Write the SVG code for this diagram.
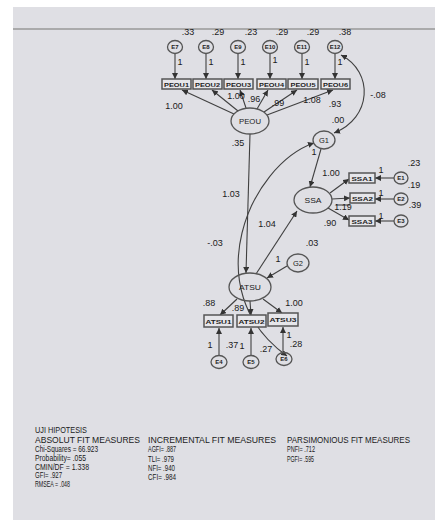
<svg xmlns="http://www.w3.org/2000/svg" width="435" height="523" viewBox="0 0 435 523">
<defs>
<marker id="ah" markerWidth="6" markerHeight="6" refX="6" refY="3" orient="auto-start-reverse" markerUnits="userSpaceOnUse">
<path d="M0,0 L6,3 L0,6 z" fill="#333"/>
</marker>
<style>
.n{fill:none;stroke:#555;stroke-width:1.3}
.bx{fill:#e6e6ea;stroke:#555;stroke-width:1.5}
.c{stroke:#404040;stroke-width:1.1;fill:none}
.l{font-family:"Liberation Sans",Arial,sans-serif;font-size:9px;fill:#1a1a1a;text-anchor:middle}
.t{font-family:"Liberation Sans",Arial,sans-serif;font-size:6px;font-weight:bold;fill:#222;text-anchor:middle}
.e{font-family:"Liberation Sans",Arial,sans-serif;font-size:7.5px;fill:#222;text-anchor:middle}
.f{font-family:"Liberation Sans",Arial,sans-serif;font-size:8.5px;fill:#1a1a1a}
</style>
</defs>
<rect x="0" y="0" width="435" height="523" fill="#ffffff"/>
<rect x="13" y="7" width="422" height="513" fill="#dfdfe4"/>
<line x1="13" y1="29" x2="435" y2="29" stroke="#999" stroke-width="1.5"/>

<g id="connectors">
<line class="c" x1="175" y1="54" x2="175" y2="79" marker-end="url(#ah)"/>
<line class="c" x1="206" y1="54" x2="206" y2="79" marker-end="url(#ah)"/>
<line class="c" x1="238" y1="54" x2="238" y2="79" marker-end="url(#ah)"/>
<line class="c" x1="270" y1="54" x2="270" y2="79" marker-end="url(#ah)"/>
<line class="c" x1="302" y1="54" x2="302" y2="79" marker-end="url(#ah)"/>
<line class="c" x1="335" y1="54" x2="335" y2="79" marker-end="url(#ah)"/>
<line class="c" x1="234" y1="114" x2="182" y2="90" marker-end="url(#ah)"/>
<line class="c" x1="238" y1="111" x2="212" y2="90" marker-end="url(#ah)"/>
<line class="c" x1="246" y1="108" x2="240" y2="90" marker-end="url(#ah)"/>
<line class="c" x1="257" y1="109" x2="268" y2="90" marker-end="url(#ah)"/>
<line class="c" x1="264" y1="112" x2="297" y2="90" marker-end="url(#ah)"/>
<line class="c" x1="267" y1="115" x2="333" y2="90" marker-end="url(#ah)"/>
<path class="c" d="M341,55 C374,72 372,118 334,133" marker-start="url(#ah)" marker-end="url(#ah)"/>
<line class="c" x1="321" y1="149" x2="310" y2="187" marker-end="url(#ah)"/>
<line class="c" x1="330" y1="193" x2="349" y2="179" marker-end="url(#ah)"/>
<line class="c" x1="332" y1="199" x2="350" y2="198" marker-end="url(#ah)"/>
<line class="c" x1="328" y1="208" x2="349" y2="220" marker-end="url(#ah)"/>
<line class="c" x1="394" y1="178" x2="375" y2="178" marker-end="url(#ah)"/>
<line class="c" x1="394" y1="199" x2="375" y2="199" marker-end="url(#ah)"/>
<line class="c" x1="394" y1="221" x2="375" y2="221" marker-end="url(#ah)"/>
<line class="c" x1="336" y1="205" x2="350" y2="205"/>
<line class="c" x1="250" y1="134" x2="246" y2="273" marker-end="url(#ah)"/>
<line class="c" x1="256" y1="274" x2="297" y2="211" marker-end="url(#ah)"/>
<line class="c" x1="287" y1="266" x2="267" y2="278" marker-end="url(#ah)"/>
<path class="c" d="M314,143 C250,165 195,290 287,356" marker-start="url(#ah)" marker-end="url(#ah)"/>
<line class="c" x1="237" y1="299" x2="220" y2="315" marker-end="url(#ah)"/>
<line class="c" x1="250" y1="301" x2="251" y2="315" marker-end="url(#ah)"/>
<line class="c" x1="263" y1="299" x2="282" y2="313" marker-end="url(#ah)"/>
<line class="c" x1="219" y1="355" x2="219" y2="328" marker-end="url(#ah)"/>
<line class="c" x1="251" y1="355" x2="251" y2="328" marker-end="url(#ah)"/>
<line class="c" x1="283" y1="353" x2="283" y2="327" marker-end="url(#ah)"/>
</g>

<g id="labels">
<text class="l" x="188" y="35">.33</text>
<text class="l" x="218" y="35">.29</text>
<text class="l" x="251" y="35">.23</text>
<text class="l" x="282" y="35">.29</text>
<text class="l" x="313" y="35">.29</text>
<text class="l" x="345" y="35">.38</text>
<text class="l" x="180" y="65">1</text>
<text class="l" x="211" y="65">1</text>
<text class="l" x="243" y="65">1</text>
<text class="l" x="275" y="63">1</text>
<text class="l" x="307" y="65">1</text>
<text class="l" x="340" y="65">1</text>
<text class="l" x="174" y="109">1.00</text>
<text class="l" x="236" y="99">1.00</text>
<text class="l" x="254" y="102">.96</text>
<text class="l" x="278" y="106">.99</text>
<text class="l" x="312" y="103">1.08</text>
<text class="l" x="335" y="107">.93</text>
<text class="l" x="378" y="98">-.08</text>
<text class="l" x="338" y="123">.00</text>
<text class="l" x="314" y="155">1</text>
<text class="l" x="331" y="176">1.00</text>
<text class="l" x="381" y="173">1</text>
<text class="l" x="381" y="196">1</text>
<text class="l" x="381" y="219">1</text>
<text class="l" x="414" y="166">.23</text>
<text class="l" x="414" y="188">.19</text>
<text class="l" x="415" y="208">.39</text>
<text class="l" x="343" y="210">1.19</text>
<text class="l" x="330" y="226">.90</text>
<text class="l" x="238" y="146">.35</text>
<text class="l" x="231" y="197">1.03</text>
<text class="l" x="267" y="227">1.04</text>
<text class="l" x="215" y="246">-.03</text>
<text class="l" x="312" y="246">.03</text>
<text class="l" x="278" y="262">1</text>
<text class="l" x="209" y="306">.88</text>
<text class="l" x="238" y="311">.89</text>
<text class="l" x="294" y="306">1.00</text>
<text class="l" x="210" y="348">1</text>
<text class="l" x="232" y="348">.37</text>
<text class="l" x="242" y="349">1</text>
<text class="l" x="266" y="352">.27</text>
<text class="l" x="289" y="338">1</text>
<text class="l" x="296" y="347">.28</text>
</g>

<g id="E7"><ellipse class="n" cx="175" cy="47" rx="7.5" ry="6.5"/><text class="t" x="175" y="49">E7</text></g>
<g id="E8"><ellipse class="n" cx="206" cy="47" rx="7.5" ry="6.5"/><text class="t" x="206" y="49">E8</text></g>
<g id="E9"><ellipse class="n" cx="238" cy="47" rx="7.5" ry="6.5"/><text class="t" x="238" y="49">E9</text></g>
<g id="E10"><ellipse class="n" cx="270" cy="47" rx="7.5" ry="6.5"/><text class="t" x="270" y="49">E10</text></g>
<g id="E11"><ellipse class="n" cx="302" cy="47" rx="7.5" ry="6.5"/><text class="t" x="302" y="49">E11</text></g>
<g id="E12"><ellipse class="n" cx="335" cy="47" rx="7.5" ry="6.5"/><text class="t" x="335" y="49">E12</text></g>

<g id="PEOU1"><rect class="bx" x="162" y="79" width="29" height="10"/><text class="t" x="176.5" y="86.5" textLength="25" lengthAdjust="spacingAndGlyphs">PEOU1</text></g>
<g id="PEOU2"><rect class="bx" x="193" y="79" width="29" height="10"/><text class="t" x="207.5" y="86.5" textLength="25" lengthAdjust="spacingAndGlyphs">PEOU2</text></g>
<g id="PEOU3"><rect class="bx" x="224" y="79" width="29" height="10"/><text class="t" x="238.5" y="86.5" textLength="25" lengthAdjust="spacingAndGlyphs">PEOU3</text></g>
<g id="PEOU4"><rect class="bx" x="257" y="79" width="29" height="10"/><text class="t" x="271.5" y="86.5" textLength="25" lengthAdjust="spacingAndGlyphs">PEOU4</text></g>
<g id="PEOU5"><rect class="bx" x="288" y="79" width="30" height="10"/><text class="t" x="303" y="86.5" textLength="25" lengthAdjust="spacingAndGlyphs">PEOU5</text></g>
<g id="PEOU6"><rect class="bx" x="321" y="79" width="29" height="10"/><text class="t" x="335.5" y="86.5" textLength="25" lengthAdjust="spacingAndGlyphs">PEOU6</text></g>

<g id="PEOU"><ellipse class="n" cx="250" cy="121" rx="19" ry="13"/><text class="e" x="250" y="124" textLength="22" lengthAdjust="spacingAndGlyphs">PEOU</text></g>
<g id="G1"><ellipse class="n" cx="324" cy="140" rx="11" ry="9"/><text class="e" x="324" y="143">G1</text></g>
<g id="SSA"><ellipse class="n" cx="313" cy="200" rx="19" ry="13"/><text class="e" x="313" y="203" textLength="17" lengthAdjust="spacingAndGlyphs">SSA</text></g>

<g id="SSA1"><rect class="bx" x="349" y="173" width="26" height="10"/><text class="t" x="362" y="180.5" textLength="21" lengthAdjust="spacingAndGlyphs">SSA1</text></g>
<g id="SSA2"><rect class="bx" x="350" y="193" width="25" height="10"/><text class="t" x="362.5" y="200.5" textLength="21" lengthAdjust="spacingAndGlyphs">SSA2</text></g>
<g id="SSA3"><rect class="bx" x="349" y="216" width="26" height="10"/><text class="t" x="362" y="223.5" textLength="21" lengthAdjust="spacingAndGlyphs">SSA3</text></g>

<g id="E1"><ellipse class="n" cx="401" cy="178" rx="7" ry="6"/><text class="t" x="401" y="180">E1</text></g>
<g id="E2"><ellipse class="n" cx="401" cy="199" rx="7" ry="6"/><text class="t" x="401" y="201">E2</text></g>
<g id="E3"><ellipse class="n" cx="401" cy="221" rx="7" ry="6"/><text class="t" x="401" y="223">E3</text></g>

<g id="G2"><ellipse class="n" cx="298" cy="263" rx="11" ry="9"/><text class="e" x="298" y="266">G2</text></g>
<g id="ATSU"><ellipse class="n" cx="250" cy="287" rx="21" ry="14"/><text class="e" x="250" y="290" textLength="22" lengthAdjust="spacingAndGlyphs">ATSU</text></g>

<g id="ATSU1"><rect class="bx" x="204" y="315" width="29" height="12"/><text class="t" x="218.5" y="323.5" textLength="26" lengthAdjust="spacingAndGlyphs">ATSU1</text></g>
<g id="ATSU2"><rect class="bx" x="237" y="315" width="29" height="12"/><text class="t" x="251.5" y="323.5" textLength="26" lengthAdjust="spacingAndGlyphs">ATSU2</text></g>
<g id="ATSU3"><rect class="bx" x="268" y="313" width="30" height="13"/><text class="t" x="283" y="322" textLength="27" lengthAdjust="spacingAndGlyphs">ATSU3</text></g>

<g id="E4"><ellipse class="n" cx="219" cy="362" rx="8" ry="6.5"/><text class="t" x="219" y="364">E4</text></g>
<g id="E5"><ellipse class="n" cx="251" cy="362" rx="8" ry="6.5"/><text class="t" x="251" y="364">E5</text></g>
<g id="E6"><ellipse class="n" cx="284" cy="359" rx="8" ry="6.5"/><text class="t" x="284" y="361">E6</text></g>

<g id="fit">
<text class="f" x="35" y="433" textLength="52" lengthAdjust="spacingAndGlyphs">UJI HIPOTESIS</text>
<text class="f" x="35" y="443" textLength="105" lengthAdjust="spacingAndGlyphs">ABSOLUT FIT MEASURES</text>
<text class="f" x="35" y="451.5" textLength="63" lengthAdjust="spacingAndGlyphs">Chi-Squares = 66.923</text>
<text class="f" x="35" y="460.5" textLength="51" lengthAdjust="spacingAndGlyphs">Probability= .055</text>
<text class="f" x="35" y="469.5" textLength="54" lengthAdjust="spacingAndGlyphs">CMIN/DF = 1.338</text>
<text class="f" x="35" y="478" textLength="27" lengthAdjust="spacingAndGlyphs">GFI= .927</text>
<text class="f" x="35" y="487" textLength="35" lengthAdjust="spacingAndGlyphs">RMSEA = .048</text>
<text class="f" x="148" y="443" textLength="128" lengthAdjust="spacingAndGlyphs">INCREMENTAL FIT MEASURES</text>
<text class="f" x="148" y="452" textLength="28" lengthAdjust="spacingAndGlyphs">AGFI= .887</text>
<text class="f" x="148" y="461.5" textLength="26" lengthAdjust="spacingAndGlyphs">TLI= .979</text>
<text class="f" x="148" y="470.5" textLength="27" lengthAdjust="spacingAndGlyphs">NFI= .940</text>
<text class="f" x="148" y="479.5" textLength="28" lengthAdjust="spacingAndGlyphs">CFI= .984</text>
<text class="f" x="287" y="443" textLength="123" lengthAdjust="spacingAndGlyphs">PARSIMONIOUS FIT MEASURES</text>
<text class="f" x="287" y="452" textLength="28" lengthAdjust="spacingAndGlyphs">PNFI= .712</text>
<text class="f" x="287" y="461.5" textLength="27" lengthAdjust="spacingAndGlyphs">PGFI= .595</text>
</g>
</svg>
